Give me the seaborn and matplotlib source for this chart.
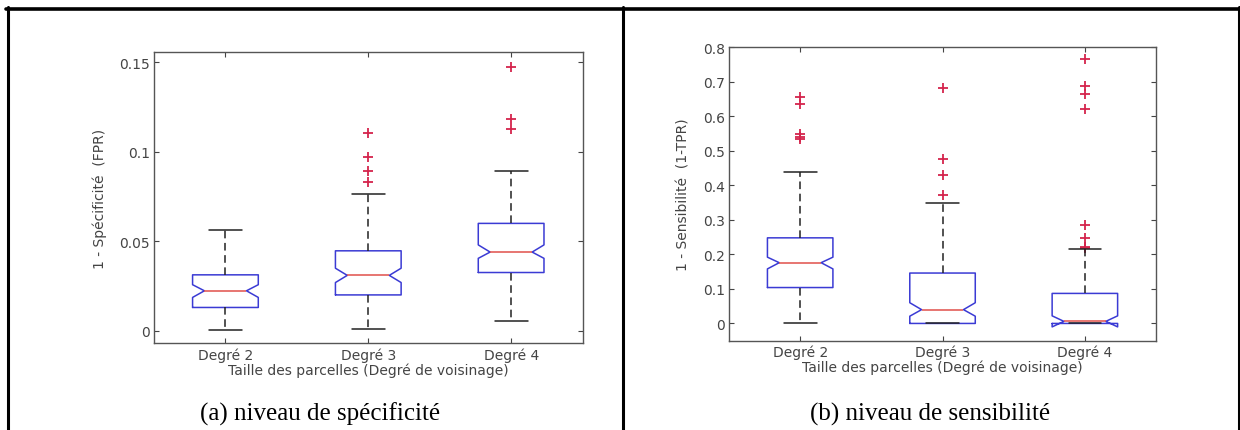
import matplotlib
matplotlib.use("Agg")
import matplotlib.pyplot as plt
from matplotlib.lines import Line2D
import pandas as pd
import seaborn as sns

# --- data ---
groups = ["Degré 2", "Degré 3", "Degré 4"]
positions = [1, 2, 3]

# (a) 1 - Spécificité (FPR)
spec_whislo = [0.0003, 0.0010, 0.0056]
spec_q1 = [0.0131, 0.0201, 0.0326]
spec_notch_lo = [0.0187, 0.0270, 0.0405]
spec_med = [0.0224, 0.0310, 0.0440]
spec_notch_hi = [0.0258, 0.0350, 0.0480]
spec_q3 = [0.0313, 0.0447, 0.0600]
spec_whishi = [0.0565, 0.0764, 0.0894]
spec_outliers = [[], [0.1105, 0.0973, 0.0894, 0.0829], [0.1472, 0.1180, 0.1127]]

# (b) 1 - Sensibilité (1-TPR)
sens_whislo = [0.0, 0.0, 0.0]
sens_q1 = [0.104, 0.0, 0.0]
sens_notch_lo = [0.158, 0.021, -0.010]
sens_med = [0.176, 0.040, 0.006]
sens_notch_hi = [0.192, 0.060, 0.022]
sens_q3 = [0.248, 0.146, 0.087]
sens_whishi = [0.438, 0.349, 0.217]
sens_outliers = [[0.656, 0.635, 0.548, 0.540, 0.533],
                 [0.683, 0.477, 0.429, 0.371],
                 [0.765, 0.689, 0.666, 0.620, 0.286, 0.248, 0.222, 0.219]]

BOX_W = 0.46
NOTCH_W = 0.32   # half-width of the box at the median (MATLAB-like shallow notch)
BLUE = "#3b3bd4"
RED = "#e0504a"
RED_OUT = "#d4244c"
GREY = "#444444"

sns.set_theme(style="white")
plt.rcParams["font.family"] = ["DejaVu Sans"]

fig = plt.figure(figsize=(12.4, 4.31), dpi=100)
ax_a = fig.add_axes([0.1242, 0.2007, 0.3456, 0.6763])
ax_b = fig.add_axes([0.5879, 0.2072, 0.3444, 0.6807])


def draw_panel(ax, wlo, q1, nlo, med, nhi, q3, whi, outliers,
               ylim, yticks, yticklabels, ylabel):
    stats = []
    for i, g in enumerate(groups):
        stats.append(dict(label=g, whislo=wlo[i], q1=q1[i], cilo=nlo[i],
                          med=med[i], cihi=nhi[i], q3=q3[i],
                          whishi=whi[i], fliers=[]))
    arts = ax.bxp(stats, positions=positions, widths=BOX_W, capwidths=0.23,
                  shownotches=True, showfliers=False, manage_ticks=False,
                  boxprops=dict(color=BLUE, linewidth=1.1),
                  medianprops=dict(color=RED, linewidth=1.1),
                  whiskerprops=dict(color="#222222", linewidth=1.1,
                                    linestyle=(0, (5, 3))),
                  capprops=dict(color="#222222", linewidth=1.1))
    # shallower notch, like MATLAB's boxplot
    for pos, box, median in zip(positions, arts["boxes"], arts["medians"]):
        xs = list(box.get_xdata())
        xs[3] = pos + NOTCH_W * BOX_W
        xs[8] = pos - NOTCH_W * BOX_W
        box.set_xdata(xs)
        median.set_xdata([pos - NOTCH_W * BOX_W, pos + NOTCH_W * BOX_W])

    out_df = pd.DataFrame({
        "pos": [p for p, o in zip(positions, outliers) for _ in o],
        "val": [v for o in outliers for v in o],
    })
    sns.scatterplot(data=out_df, x="pos", y="val", marker="+",
                    color=RED_OUT, s=50, linewidth=1.3, ax=ax, legend=False)

    ax.set_xlim(0.5, 3.5)
    ax.set_ylim(*ylim)
    ax.set_xticks(positions)
    ax.set_xticklabels(groups)
    ax.set_yticks(yticks)
    ax.set_yticklabels(yticklabels)
    ax.tick_params(direction="in", top=True, right=True, bottom=True,
                   left=True, length=3.5, width=0.8, color=GREY,
                   labelcolor=GREY, labelsize=10, pad=3)
    for sp in ax.spines.values():
        sp.set_color("#555555")
        sp.set_linewidth(1.0)
    ax.set_xlabel("Taille des parcelles (Degré de voisinage)",
                  fontsize=10, color=GREY, labelpad=0)
    ax.set_ylabel(ylabel, fontsize=10, color=GREY, labelpad=9)


draw_panel(ax_a, spec_whislo, spec_q1, spec_notch_lo, spec_med,
           spec_notch_hi, spec_q3, spec_whishi, spec_outliers,
           (-0.007, 0.1556), [0, 0.05, 0.1, 0.15],
           ["0", "0.05", "0.1", "0.15"], "1 - Spécificité  (FPR)")

draw_panel(ax_b, sens_whislo, sens_q1, sens_notch_lo, sens_med,
           sens_notch_hi, sens_q3, sens_whishi, sens_outliers,
           (-0.05, 0.8), [i / 10 for i in range(9)],
           ["0"] + [f"0.{i}" for i in range(1, 9)],
           "1 - Sensibilité  (1-TPR)")

# table frame around the two sub-figures
top = 1 - 9.5 / 431
for x in [7.7 / 1240, 622.5 / 1240, 1238.5 / 1240]:
    fig.add_artist(Line2D([x, x], [0, top + 0.004], transform=fig.transFigure,
                          color="black", linewidth=2.2))
fig.add_artist(Line2D([6 / 1240, 1], [top, top], transform=fig.transFigure,
                      color="black", linewidth=2.6))

fig.text(320 / 1240, 1 - 414 / 431, "(a) niveau de spécificité",
         ha="center", va="center", fontsize=18, family="Liberation Serif",
         color="black")
fig.text(930 / 1240, 1 - 414 / 431, "(b) niveau de sensibilité",
         ha="center", va="center", fontsize=18, family="Liberation Serif",
         color="black")

fig.savefig("out.png", dpi=100)
